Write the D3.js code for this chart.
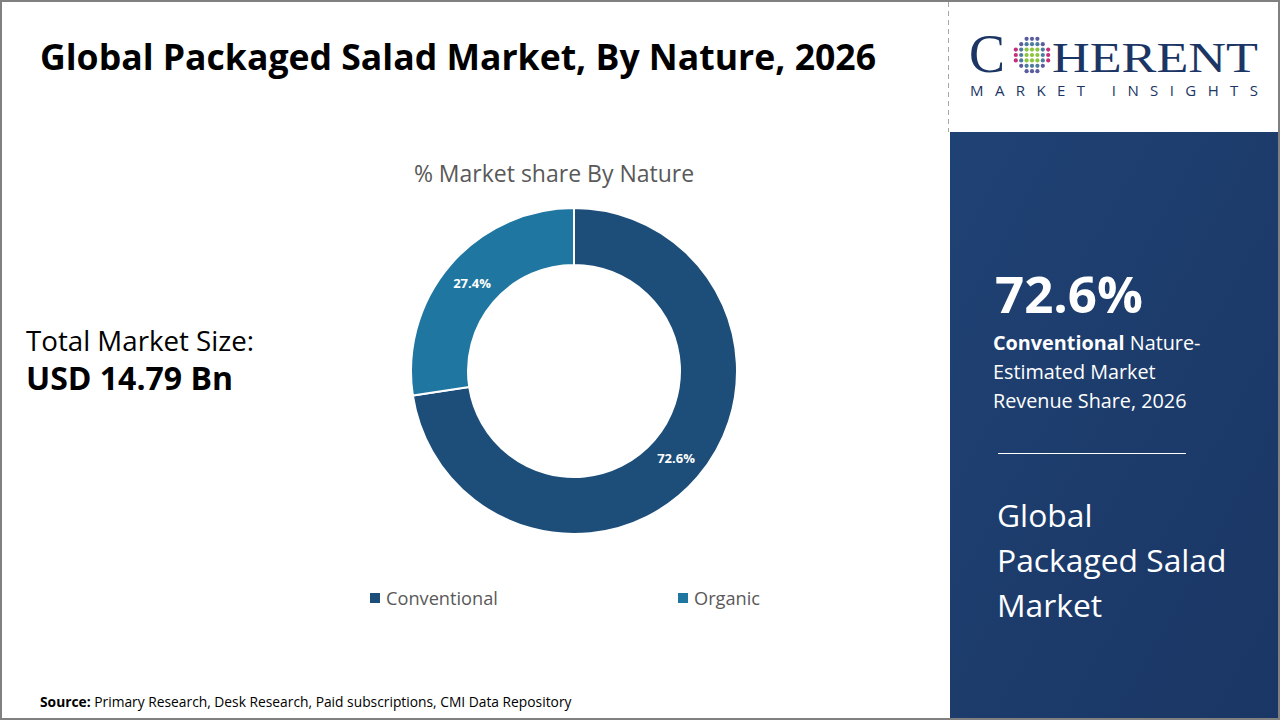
<!DOCTYPE html>
<html lang="en">
<head>
<meta charset="utf-8">
<title>Global Packaged Salad Market, By Nature, 2026</title>
<script src="https://cdn.jsdelivr.net/npm/d3@7/dist/d3.min.js"></script>
<style>
body { margin: 0; background: #fff; }
svg text { font-family: "Open Sans", "Noto Sans", sans-serif; }
</style>
</head>
<body>
<div id="chart"></div>
<script>
// chart data
var natures = ["Conventional", "Organic"];
var shares = [72.6, 27.4];
var sliceColors = ["#1d4e79", "#1f77a1"];
var marketSize = "USD 14.79 Bn";
var highlightShare = "72.6%";

var W = 1280, H = 720;

var svg = d3.select("#chart").append("svg")
  .attr("width", W)
  .attr("height", H);

// frame
svg.append("rect")
  .attr("x", 1).attr("y", 1)
  .attr("width", W - 2).attr("height", H - 2)
  .attr("fill", "#fff")
  .attr("stroke", "#808080")
  .attr("stroke-width", 2);

// right panel
var grad = svg.append("defs").append("linearGradient")
  .attr("id", "panelGrad")
  .attr("x1", "0").attr("y1", "0").attr("x2", "1").attr("y2", "1");
grad.append("stop").attr("offset", "0%").attr("stop-color", "#1f4274");
grad.append("stop").attr("offset", "100%").attr("stop-color", "#1a3664");

svg.append("rect")
  .attr("x", 950).attr("y", 132)
  .attr("width", 328).attr("height", 586)
  .attr("fill", "url(#panelGrad)");

// dashed divider above the panel
svg.append("line")
  .attr("x1", 948.5).attr("x2", 948.5)
  .attr("y1", 2).attr("y2", 132)
  .attr("stroke", "#a6a6a6")
  .attr("stroke-width", 1)
  .attr("stroke-dasharray", "5,4");

// title
svg.append("text")
  .attr("x", 40).attr("y", 70)
  .attr("textLength", 836)
  .attr("lengthAdjust", "spacingAndGlyphs")
  .style("font-size", "36px")
  .style("font-weight", 700)
  .attr("fill", "#000")
  .text("Global Packaged Salad Market, By Nature, 2026");

// logo
var logo = svg.append("g");
logo.append("text")
  .attr("x", 969).attr("y", 72)
  .style("font-family", "'Liberation Serif', 'DejaVu Serif', serif")
  .style("font-size", "54px")
  .attr("fill", "#1b3564")
  .text("C");
logo.append("text")
  .attr("x", 1052).attr("y", 72)
  .attr("textLength", 206)
  .attr("lengthAdjust", "spacingAndGlyphs")
  .style("font-family", "'Liberation Serif', 'DejaVu Serif', serif")
  .style("font-size", "42px")
  .attr("fill", "#1b3564")
  .text("HERENT");
logo.append("text")
  .attr("x", 970).attr("y", 96)
  .attr("textLength", 288)
  .attr("lengthAdjust", "spacing")
  .style("font-size", "15px")
  .attr("fill", "#1b3564")
  .text("MARKET INSIGHTS");

// dotted globe in place of the O
var gx = 1032, gy = 55, step = 5.4;
var dots = [];
for (var i = -3; i <= 3; i++) {
  for (var j = -3; j <= 3; j++) {
    var dx = i * step, dy = j * step, d = Math.sqrt(dx * dx + dy * dy);
    if (d > 3.3 * step) continue;
    var c;
    if (Math.abs(i) + Math.abs(j) <= 1 || (Math.abs(i) == 1 && Math.abs(j) == 1)) c = "#8cc63f";
    else if (d <= 2.3 * step) c = "#4d7c9c";
    else if (Math.abs(i) > Math.abs(j)) c = "#c2307b";
    else c = "#5a5c9e";
    dots.push({ x: gx + dx, y: gy + dy, c: c });
  }
}
logo.selectAll("circle.dot").data(dots).enter().append("circle")
  .attr("class", "dot")
  .attr("cx", function(d) { return d.x; })
  .attr("cy", function(d) { return d.y; })
  .attr("r", 2.1)
  .attr("fill", function(d) { return d.c; });

// subtitle
svg.append("text")
  .attr("x", 554).attr("y", 182)
  .attr("text-anchor", "middle")
  .style("font-size", "23px")
  .attr("fill", "#595959")
  .text("% Market share By Nature");

// total market size
svg.append("text")
  .attr("x", 26).attr("y", 351)
  .style("font-size", "27.7px")
  .attr("fill", "#000")
  .text("Total Market Size:");
svg.append("text")
  .attr("x", 26).attr("y", 390)
  .style("font-size", "32px")
  .style("font-weight", 700)
  .attr("fill", "#000")
  .text(marketSize);

// donut
var cx = 574, cy = 371, outerR = 163, innerR = 106;
var pie = d3.pie().sort(null).value(function(d) { return d; });
var arc = d3.arc().innerRadius(innerR).outerRadius(outerR);
var arcs = pie(shares);

var donut = svg.append("g")
  .attr("transform", "translate(" + cx + "," + cy + ")");

donut.selectAll("path")
  .data(arcs)
  .enter()
  .append("path")
  .attr("d", arc)
  .attr("fill", function(d, i) { return sliceColors[i]; })
  .attr("stroke", "#fff")
  .attr("stroke-width", 2);

donut.selectAll("text")
  .data(arcs)
  .enter()
  .append("text")
  .attr("transform", function(d) { return "translate(" + arc.centroid(d) + ")"; })
  .attr("text-anchor", "middle")
  .attr("dy", "0.35em")
  .style("font-size", "13px")
  .style("font-weight", 700)
  .attr("fill", "#fff")
  .text(function(d) { return d.data.toFixed(1) + "%"; });

// legend
var legendX = d3.scaleOrdinal().domain(natures).range([370, 678]);
var legend = svg.selectAll("g.legend")
  .data(natures)
  .enter()
  .append("g")
  .attr("class", "legend")
  .attr("transform", function(d) { return "translate(" + legendX(d) + ",598)"; });
legend.append("rect")
  .attr("x", 0).attr("y", -5)
  .attr("width", 10).attr("height", 10)
  .attr("fill", function(d, i) { return sliceColors[i]; });
legend.append("text")
  .attr("x", 16).attr("y", 6.5)
  .style("font-size", "18.2px")
  .attr("fill", "#595959")
  .text(function(d) { return d; });

// right panel text
svg.append("text")
  .attr("x", 995).attr("y", 313)
  .style("font-size", "51px")
  .style("font-weight", 700)
  .attr("fill", "#fff")
  .text(highlightShare);

var desc = svg.append("text")
  .attr("x", 993).attr("y", 350)
  .style("font-size", "19.8px")
  .attr("fill", "#fff");
var l1 = desc.append("tspan").attr("x", 993);
l1.append("tspan").style("font-weight", 700).text(natures[0]);
l1.append("tspan").text(" Nature-");
desc.append("tspan").attr("x", 993).attr("dy", 29).text("Estimated Market");
desc.append("tspan").attr("x", 993).attr("dy", 29).text("Revenue Share, 2026");

svg.append("line")
  .attr("x1", 998).attr("x2", 1186)
  .attr("y1", 453.5).attr("y2", 453.5)
  .attr("stroke", "#fff")
  .attr("stroke-width", 1);

var big = svg.append("text")
  .attr("x", 997).attr("y", 527)
  .style("font-size", "31.8px")
  .attr("fill", "#fff");
big.append("tspan").attr("x", 997).text("Global");
big.append("tspan").attr("x", 997).attr("dy", 45).text("Packaged Salad");
big.append("tspan").attr("x", 997).attr("dy", 45).text("Market");

// source
var src = svg.append("text")
  .attr("x", 40).attr("y", 707)
  .style("font-size", "13.8px")
  .attr("fill", "#000");
src.append("tspan").style("font-weight", 700).text("Source:");
src.append("tspan").text(" Primary Research, Desk Research, Paid subscriptions, CMI Data Repository");
</script>
</body>
</html>
